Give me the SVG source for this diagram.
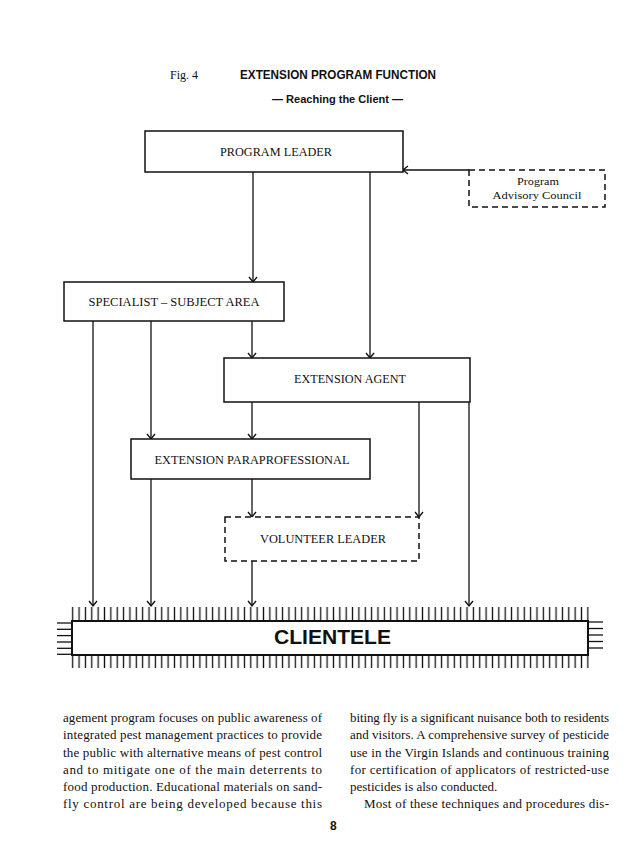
<svg xmlns="http://www.w3.org/2000/svg" width="630" height="866" viewBox="0 0 630 866">
<style>
.bg{fill:#fff}
.box{fill:#fff;stroke:#111;stroke-width:1.5}
.dbox{fill:#fff;stroke:#111;stroke-width:1.5;stroke-dasharray:6 4}
.lbl{font-family:"Liberation Serif",serif;font-size:12.3px;fill:#111;text-anchor:middle}
.sm{font-size:11.3px}
.conn line{stroke:#111;stroke-width:1.3;fill:none}
.arr{marker-end:url(#ah)}
.body{font-family:"Liberation Serif",serif;font-size:13px;fill:#111}
.tick{stroke:#111;stroke-width:1.3}
</style>
<defs>
<marker id="ah" markerUnits="userSpaceOnUse" markerWidth="12" markerHeight="12" viewBox="-6 -6 12 12" refX="0" refY="0" orient="auto">
<polyline points="-5,-4 0,0 -5,4" fill="none" stroke="#111" stroke-width="1.4"/>
</marker>
<pattern id="ticks" patternUnits="userSpaceOnUse" x="69.52" y="0" width="6.36" height="20">
<line x1="3.18" y1="0" x2="3.18" y2="20" stroke="#111" stroke-width="1.3"/>
</pattern>
</defs>
<rect class="bg" x="0" y="0" width="630" height="866"/>

<g id="title">
<text x="170" y="79" font-family="Liberation Serif,serif" font-size="12" fill="#111">Fig. 4</text>
<text x="240" y="79" font-family="Liberation Sans,sans-serif" font-size="12" font-weight="bold" fill="#111" textLength="196" lengthAdjust="spacingAndGlyphs">EXTENSION PROGRAM FUNCTION</text>
<text x="272" y="103" font-family="Liberation Sans,sans-serif" font-size="11" font-weight="bold" fill="#111" textLength="131" lengthAdjust="spacingAndGlyphs">— Reaching the Client —</text>
</g>

<g id="connectors" class="conn">
<line class="arr" x1="253" y1="172" x2="253" y2="282"/>
<line class="arr" x1="370" y1="172" x2="370" y2="358"/>
<line class="arr" x1="469" y1="170" x2="403" y2="170"/>
<line class="arr" x1="93" y1="321" x2="93" y2="606"/>
<line class="arr" x1="151" y1="321" x2="151" y2="439"/>
<line class="arr" x1="252" y1="321" x2="252" y2="358"/>
<line class="arr" x1="252" y1="402" x2="252" y2="439"/>
<line class="arr" x1="419" y1="402" x2="419" y2="517"/>
<line class="arr" x1="469" y1="402" x2="469" y2="606"/>
<line class="arr" x1="151" y1="479" x2="151" y2="606"/>
<line class="arr" x1="252" y1="479" x2="252" y2="517"/>
<line class="arr" x1="252" y1="561" x2="252" y2="606"/>
</g>

<g id="program-leader">
<rect class="box" x="145" y="131" width="258" height="41"/>
<text class="lbl" x="276" y="156" textLength="112" lengthAdjust="spacingAndGlyphs">PROGRAM LEADER</text>
</g>

<g id="advisory-council">
<rect class="dbox" x="469" y="170" width="136" height="37"/>
<text class="lbl sm" x="538" y="185" textLength="42" lengthAdjust="spacingAndGlyphs">Program</text>
<text class="lbl sm" x="537" y="199" textLength="89" lengthAdjust="spacingAndGlyphs">Advisory Council</text>
</g>

<g id="specialist">
<rect class="box" x="64" y="282" width="220" height="39"/>
<text class="lbl" x="174" y="306" textLength="171" lengthAdjust="spacingAndGlyphs">SPECIALIST – SUBJECT AREA</text>
</g>

<g id="extension-agent">
<rect class="box" x="224" y="358" width="246" height="44"/>
<text class="lbl" x="350" y="383" textLength="112" lengthAdjust="spacingAndGlyphs">EXTENSION AGENT</text>
</g>

<g id="paraprofessional">
<rect class="box" x="131" y="439" width="239" height="40"/>
<text class="lbl" x="252" y="464" textLength="195" lengthAdjust="spacingAndGlyphs">EXTENSION PARAPROFESSIONAL</text>
</g>

<g id="volunteer-leader">
<rect class="dbox" x="225" y="517" width="194" height="44"/>
<text class="lbl" x="323" y="543" textLength="126" lengthAdjust="spacingAndGlyphs">VOLUNTEER LEADER</text>
</g>

<g id="clientele">
<rect x="71" y="607" width="518" height="14" fill="url(#ticks)"/>
<rect x="71" y="655" width="518" height="13" fill="url(#ticks)"/>
<rect x="72" y="621" width="516" height="34" fill="#fff" stroke="#111" stroke-width="2"/>
<line class="tick" x1="57" y1="623" x2="72" y2="623"/>
<line class="tick" x1="57" y1="629.3" x2="72" y2="629.3"/>
<line class="tick" x1="57" y1="635.6" x2="72" y2="635.6"/>
<line class="tick" x1="57" y1="642" x2="72" y2="642"/>
<line class="tick" x1="57" y1="648.3" x2="72" y2="648.3"/>
<line class="tick" x1="57" y1="654.3" x2="72" y2="654.3"/>
<line class="tick" x1="588" y1="622" x2="603" y2="622"/>
<line class="tick" x1="588" y1="628.5" x2="603" y2="628.5"/>
<line class="tick" x1="588" y1="635" x2="603" y2="635"/>
<line class="tick" x1="588" y1="641.5" x2="603" y2="641.5"/>
<line class="tick" x1="588" y1="648" x2="603" y2="648"/>
<text x="274" y="643.5" font-family="Liberation Sans,sans-serif" font-size="20" font-weight="bold" fill="#111" textLength="117" lengthAdjust="spacingAndGlyphs">CLIENTELE</text>
</g>

<g id="body-text">
<text class="body" x="63" y="722" textLength="259" lengthAdjust="spacing">agement program focuses on public awareness of</text>
<text class="body" x="63" y="739" textLength="259" lengthAdjust="spacing">integrated pest management practices to provide</text>
<text class="body" x="63" y="756.5" textLength="259" lengthAdjust="spacing">the public with alternative means of pest control</text>
<text class="body" x="63" y="773.5" textLength="259" lengthAdjust="spacing">and to mitigate one of the main deterrents to</text>
<text class="body" x="63" y="791" textLength="259" lengthAdjust="spacing">food production. Educational materials on sand-</text>
<text class="body" x="63" y="808" textLength="259" lengthAdjust="spacing">fly control are being developed because this</text>
<text class="body" x="350" y="722" textLength="259" lengthAdjust="spacing">biting  fly is a significant nuisance both to residents</text>
<text class="body" x="350" y="739" textLength="259" lengthAdjust="spacing">and visitors. A comprehensive survey of pesticide</text>
<text class="body" x="350" y="756.5" textLength="259" lengthAdjust="spacing">use in the Virgin Islands and continuous training</text>
<text class="body" x="350" y="773.5" textLength="259" lengthAdjust="spacing">for certification of applicators of restricted-use</text>
<text class="body" x="350" y="791">pesticides is also conducted.</text>
<text class="body" x="364" y="808" textLength="245" lengthAdjust="spacing">Most of these techniques and procedures dis-</text>
<text x="330" y="830" font-family="Liberation Sans,sans-serif" font-size="12" font-weight="bold" fill="#111">8</text>
</g>
</svg>
